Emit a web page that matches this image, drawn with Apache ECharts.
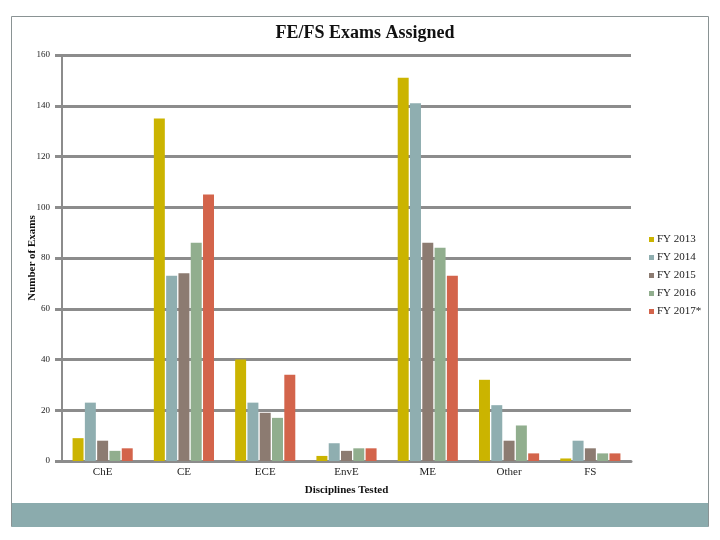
<!DOCTYPE html>
<html><head><meta charset="utf-8">
<script src="https://cdn.jsdelivr.net/npm/echarts@6/dist/echarts.min.js"></script>
<style>html,body{margin:0;padding:0;background:#fff}#c{width:720px;height:540px}</style>
</head><body><div id="c"></div>
<script>
const categories = ['ChE','CE','ECE','EnvE','ME','Other','FS'];
const seriesNames = ['FY 2013','FY 2014','FY 2015','FY 2016','FY 2017*'];
const fy2013 = [9,135,40,2,151,32,1];
const fy2014 = [23,73,23,7,141,22,8];
const fy2015 = [8,74,19,4,86,8,5];
const fy2016 = [4,86,17,5,84,14,3];
const fy2017 = [5,105,34,5,73,3,3];
const colors = ['#CBB400','#8FAEB0','#8C7B71','#91AE8E','#D3644B'];
const values = [fy2013,fy2014,fy2015,fy2016,fy2017];
const font = '"Liberation Serif","DejaVu Serif",serif';
const chart = echarts.init(document.getElementById('c'));
chart.setOption({
  animation:false,
  textStyle:{fontFamily:font},
  title:{text:'FE/FS Exams Assigned',left:360,top:19,textAlign:'center',
    textStyle:{fontFamily:font,fontSize:18,fontWeight:'bold',color:'#111'}},
  graphic:[
    {type:'rect',shape:{x:11.5,y:16.5,width:697,height:510},style:{fill:'none',stroke:'#8a9394',lineWidth:1},z:-1},
    {type:'rect',shape:{x:12,y:503,width:696,height:24},style:{fill:'#8BABAD'},z:-1}
  ],
  legend:{orient:'vertical',left:644,top:229,itemWidth:5,itemHeight:5,itemGap:7,icon:'rect',
    textStyle:{fontFamily:font,fontSize:11,color:'#222',padding:[0,0,0,-2]},data:seriesNames},
  grid:{left:62,right:89,top:55,bottom:79,containLabel:false},
  xAxis:{type:'category',data:categories,name:'Disciplines Tested',nameLocation:'middle',nameGap:24,
    nameTextStyle:{fontFamily:font,fontSize:11,fontWeight:'bold',color:'#111'},
    axisLine:{show:true,lineStyle:{color:'#8c8c8c',width:3}},axisTick:{show:false},
    axisLabel:{fontFamily:font,fontSize:11,color:'#222',margin:6}},
  yAxis:{type:'value',min:0,max:160,interval:20,name:'Number of Exams',nameLocation:'middle',nameGap:24,
    nameMoveOverlap:false,
    nameTextStyle:{fontFamily:font,fontSize:11,fontWeight:'bold',color:'#111'},
    axisLine:{show:true,lineStyle:{color:'#8c8c8c',width:2}},
    axisTick:{show:true,length:7,lineStyle:{color:'#8c8c8c',width:3}},
    splitLine:{lineStyle:{color:'#8c8c8c',width:3}},
    axisLabel:{fontFamily:font,fontSize:9,color:'#222',margin:12}},
  series: seriesNames.map((n,i)=>({name:n,type:'bar',data:values[i],barGap:'12%',barCategoryGap:'26%',
    itemStyle:{color:colors[i]}}))
});
</script></body></html>
